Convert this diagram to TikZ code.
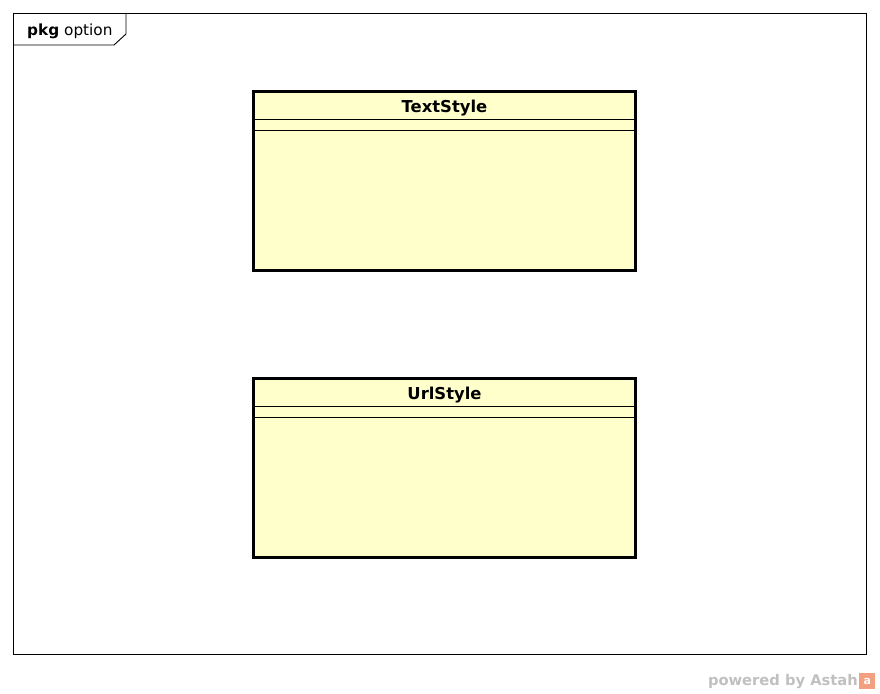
\documentclass[tikz,border=0pt]{standalone}
\usepackage{fontspec}
\setmainfont{DejaVu Sans}
\usepackage{tikz}
\usetikzlibrary{positioning}
\definecolor{classfill}{RGB}{255,255,204}
\definecolor{astahgrey}{RGB}{192,192,192}
\definecolor{astahorange}{RGB}{242,160,128}
\tikzstyle{frame} = [draw, line width=0.9pt]
\tikzstyle{umlclass} = [rectangle, draw, fill=classfill, line width=2.8pt,
    minimum width=382.5pt, minimum height=179.5pt, inner sep=0pt, outer sep=0pt]
\tikzstyle{classname} = [font=\fontsize{16.4}{19}\selectfont\bfseries]
\tikzstyle{compart} = [draw, line width=1pt]

\begin{document}
\begin{tikzpicture}[x=1pt,y=-1pt]
    \useasboundingbox (0,0) rectangle (880,693);
    % Package frame
    \draw[frame] (13,13) rectangle (866,654);
    \draw[frame] (13,45) -- (114,45) -- (126,34) -- (126,13);
    \node[anchor=west,inner sep=0pt,font=\fontsize{15.3}{18}\selectfont] (pkg) at (27,31) {\textbf{pkg} option};
    % Place nodes
    \node [umlclass] (textstyle) at (444.5,181) {};
    \node [umlclass, below=107.5pt of textstyle] (urlstyle) {};
    \node [classname] (textname) at ([yshift=-16.5pt]textstyle.north) {TextStyle};
    \node [classname] (urlname) at ([yshift=-16.5pt]urlstyle.north) {UrlStyle};
    % Compartments
    \path [compart] ([yshift=-28pt]textstyle.north west) -- ([yshift=-28pt]textstyle.north east);
    \path [compart] ([yshift=-39pt]textstyle.north west) -- ([yshift=-39pt]textstyle.north east);
    \path [compart] ([yshift=-28pt]urlstyle.north west) -- ([yshift=-28pt]urlstyle.north east);
    \path [compart] ([yshift=-39pt]urlstyle.north west) -- ([yshift=-39pt]urlstyle.north east);
    % Watermark
    \node[anchor=east,inner sep=0pt,text=astahgrey,font=\fontsize{14.7}{17}\selectfont\bfseries] (powered) at (858,681) {powered by Astah};
    \node[fill=astahorange,minimum size=16pt,inner sep=0pt,anchor=west,text=white,font=\fontsize{11}{11}\selectfont\bfseries] (logo) at ([xshift=1pt]powered.east) {a};
\end{tikzpicture}
\end{document}
